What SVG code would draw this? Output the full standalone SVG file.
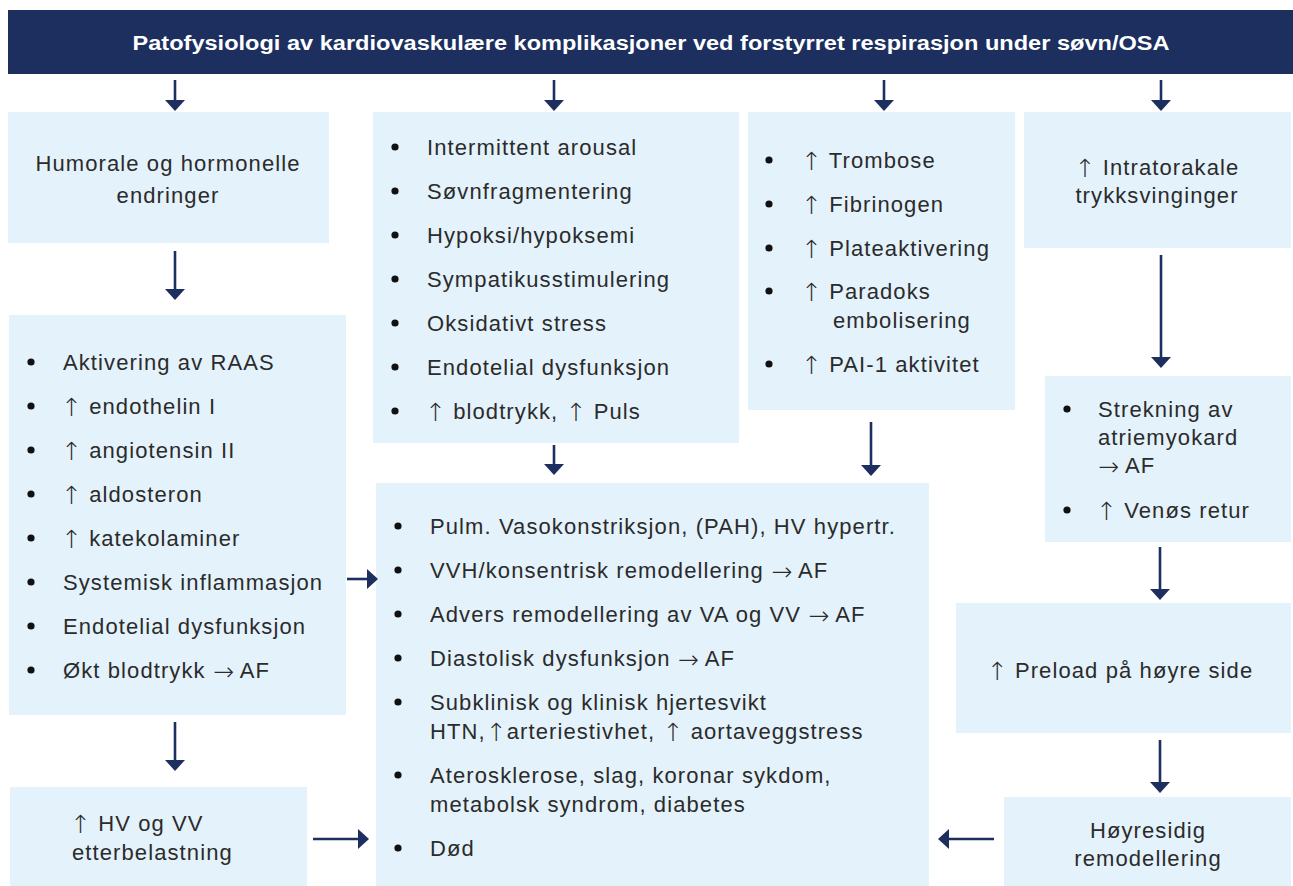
<svg xmlns="http://www.w3.org/2000/svg" width="1293" height="886" viewBox="0 0 1293 886">
<style>
.box{fill:#e4f2fc}
.t{font-family:"Liberation Sans",Arial,sans-serif;font-size:22px;fill:#2b2b2b;letter-spacing:1.1px}
.ar{font-family:"DejaVu Sans",sans-serif;font-size:25px;font-weight:200;letter-spacing:0;baseline-shift:-2px}
.c{text-anchor:middle}
.b{fill:#111}
.ln{stroke:#1c2f5f;stroke-width:2.6;fill:none;marker-end:url(#ah)}
.hd{font-family:"Liberation Sans",Arial,sans-serif;font-size:20px;font-weight:bold;fill:#fff;text-anchor:middle}
</style>
<defs>
<marker id="ah" viewBox="0 0 11 20" refX="0" refY="10" markerWidth="11" markerHeight="20" markerUnits="userSpaceOnUse" orient="auto">
<path d="M0,0 L11,10 L0,20 z" fill="#1c2f5f"/>
</marker>
</defs>
<rect width="1293" height="886" fill="#fff"/>

<g id="header">
<rect x="8" y="10" width="1285" height="64" fill="#1c2f5f"/>
<text class="hd" x="651" y="50" textLength="1037" lengthAdjust="spacingAndGlyphs">Patofysiologi av kardiovaskulære komplikasjoner ved forstyrret respirasjon under søvn/OSA</text>
</g>

<g id="humorale">
<rect class="box" x="8" y="112" width="321" height="131"/>
<text class="t c" x="168" y="171">Humorale og hormonelle</text>
<text class="t c" x="168" y="203">endringer</text>
</g>

<g id="arousal">
<rect class="box" x="373" y="112" width="366" height="331"/>
<circle class="b" cx="395" cy="147" r="3.6"/><text class="t" x="427" y="155">Intermittent arousal</text>
<circle class="b" cx="395" cy="191" r="3.6"/><text class="t" x="427" y="199">Søvnfragmentering</text>
<circle class="b" cx="395" cy="235" r="3.6"/><text class="t" x="427" y="243">Hypoksi/hypoksemi</text>
<circle class="b" cx="395" cy="279" r="3.6"/><text class="t" x="427" y="287">Sympatikusstimulering</text>
<circle class="b" cx="395" cy="323" r="3.6"/><text class="t" x="427" y="331">Oksidativt stress</text>
<circle class="b" cx="395" cy="367" r="3.6"/><text class="t" x="427" y="375">Endotelial dysfunksjon</text>
<circle class="b" cx="395" cy="411" r="3.6"/><text class="t" x="425" y="419"><tspan class="ar">↑</tspan> blodtrykk, <tspan class="ar">↑</tspan> Puls</text>
</g>

<g id="trombose">
<rect class="box" x="748" y="112" width="267" height="298"/>
<circle class="b" cx="769" cy="160" r="3.6"/><text class="t" x="801" y="168"><tspan class="ar">↑</tspan> Trombose</text>
<circle class="b" cx="769" cy="204" r="3.6"/><text class="t" x="801" y="212"><tspan class="ar">↑</tspan> Fibrinogen</text>
<circle class="b" cx="769" cy="248" r="3.6"/><text class="t" x="801" y="256"><tspan class="ar">↑</tspan> Plateaktivering</text>
<circle class="b" cx="769" cy="291" r="3.6"/><text class="t" x="801" y="299"><tspan class="ar">↑</tspan> Paradoks</text>
<text class="t" x="833" y="328">embolisering</text>
<circle class="b" cx="769" cy="364" r="3.6"/><text class="t" x="801" y="372"><tspan class="ar">↑</tspan> PAI-1 aktivitet</text>
</g>

<g id="intratorakale">
<rect class="box" x="1024" y="112" width="267" height="136"/>
<text class="t c" x="1157" y="175"><tspan class="ar">↑</tspan> Intratorakale</text>
<text class="t c" x="1157" y="203">trykksvinginger</text>
</g>

<g id="raas">
<rect class="box" x="9" y="315" width="337" height="400"/>
<circle class="b" cx="31" cy="362" r="3.6"/><text class="t" x="63" y="370">Aktivering av RAAS</text>
<circle class="b" cx="31" cy="406" r="3.6"/><text class="t" x="61" y="414"><tspan class="ar">↑</tspan> endothelin I</text>
<circle class="b" cx="31" cy="450" r="3.6"/><text class="t" x="61" y="458"><tspan class="ar">↑</tspan> angiotensin II</text>
<circle class="b" cx="31" cy="494" r="3.6"/><text class="t" x="61" y="502"><tspan class="ar">↑</tspan> aldosteron</text>
<circle class="b" cx="31" cy="538" r="3.6"/><text class="t" x="61" y="546"><tspan class="ar">↑</tspan> katekolaminer</text>
<circle class="b" cx="31" cy="582" r="3.6"/><text class="t" x="63" y="590">Systemisk inflammasjon</text>
<circle class="b" cx="31" cy="626" r="3.6"/><text class="t" x="63" y="634">Endotelial dysfunksjon</text>
<circle class="b" cx="31" cy="670" r="3.6"/><text class="t" x="63" y="678">Økt blodtrykk <tspan class="ar">→</tspan> AF</text>
</g>

<g id="strekning">
<rect class="box" x="1045" y="376" width="246" height="166"/>
<circle class="b" cx="1067" cy="409" r="3.6"/><text class="t" x="1098" y="417">Strekning av</text>
<text class="t" x="1098" y="445">atriemyokard</text>
<text class="t" x="1098" y="473"><tspan class="ar">→</tspan> AF</text>
<circle class="b" cx="1067" cy="510" r="3.6"/><text class="t" x="1096" y="518"><tspan class="ar">↑</tspan> Venøs retur</text>
</g>

<g id="konsekvenser">
<rect class="box" x="376" y="483" width="553" height="403"/>
<circle class="b" cx="398" cy="526" r="3.6"/><text class="t" x="430" y="534">Pulm. Vasokonstriksjon, (PAH), HV hypertr.</text>
<circle class="b" cx="398" cy="570" r="3.6"/><text class="t" x="430" y="578">VVH/konsentrisk remodellering <tspan class="ar">→</tspan> AF</text>
<circle class="b" cx="398" cy="614" r="3.6"/><text class="t" x="430" y="622">Advers remodellering av VA og VV <tspan class="ar">→</tspan> AF</text>
<circle class="b" cx="398" cy="658" r="3.6"/><text class="t" x="430" y="666">Diastolisk dysfunksjon <tspan class="ar">→</tspan> AF</text>
<circle class="b" cx="398" cy="702" r="3.6"/><text class="t" x="430" y="710">Subklinisk og klinisk hjertesvikt</text>
<text class="t" x="430" y="739">HTN,<tspan class="ar">↑</tspan>arteriestivhet, <tspan class="ar">↑</tspan> aortaveggstress</text>
<circle class="b" cx="398" cy="775" r="3.6"/><text class="t" x="430" y="783">Aterosklerose, slag, koronar sykdom,</text>
<text class="t" x="430" y="812">metabolsk syndrom, diabetes</text>
<circle class="b" cx="398" cy="848" r="3.6"/><text class="t" x="430" y="856">Død</text>
</g>

<g id="preload">
<rect class="box" x="956" y="603" width="335" height="130"/>
<text class="t c" x="1120" y="678"><tspan class="ar">↑</tspan> Preload på høyre side</text>
</g>

<g id="etterbelastning">
<rect class="box" x="10" y="787" width="297" height="99"/>
<text class="t" x="70" y="831"><tspan class="ar">↑</tspan> HV og VV</text>
<text class="t" x="72" y="860">etterbelastning</text>
</g>

<g id="hoyresidig">
<rect class="box" x="1004" y="797" width="287" height="89"/>
<text class="t c" x="1148" y="838">Høyresidig</text>
<text class="t c" x="1148" y="866">remodellering</text>
</g>

<g id="connectors">
<line class="ln" x1="175" y1="80" x2="175" y2="100"/>
<line class="ln" x1="554" y1="80" x2="554" y2="100"/>
<line class="ln" x1="884" y1="80" x2="884" y2="100"/>
<line class="ln" x1="1161" y1="80" x2="1161" y2="100"/>
<line class="ln" x1="175" y1="251" x2="175" y2="289"/>
<line class="ln" x1="175" y1="722" x2="175" y2="760"/>
<line class="ln" x1="554" y1="445" x2="554" y2="464"/>
<line class="ln" x1="871" y1="422" x2="871" y2="465"/>
<line class="ln" x1="1161" y1="255" x2="1161" y2="357"/>
<line class="ln" x1="1160" y1="547" x2="1160" y2="589"/>
<line class="ln" x1="1160" y1="740" x2="1160" y2="782"/>
<line class="ln" x1="347" y1="579" x2="367" y2="579"/>
<line class="ln" x1="313" y1="839" x2="358" y2="839"/>
<line class="ln" x1="994" y1="839" x2="949" y2="839"/>
</g>
</svg>
